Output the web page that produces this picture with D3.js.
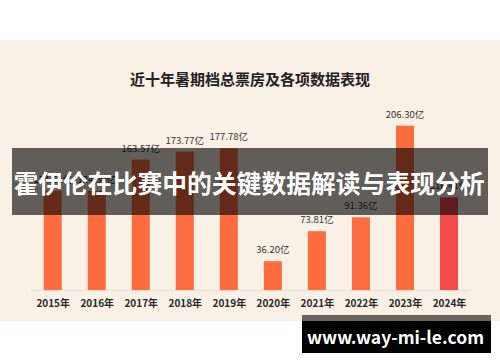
<!DOCTYPE html>
<html>
<head>
<meta charset="utf-8">
<script src="https://cdn.jsdelivr.net/npm/d3@7"></script>
<style>
  body{margin:0;background:#fff;}
  svg{display:block;}
  text{font-family:"Noto Sans CJK SC","Noto Sans",sans-serif;}
</style>
</head>
<body>
<div id="chart"></div>
<script>
// 数据
var years=["2015年","2016年","2017年","2018年","2019年","2020年","2021年","2022年","2023年","2024年"];
var boxOffice=[124.62,124.30,163.57,173.77,177.78,36.20,73.81,91.36,206.30,116.41];
var valueLabels=["124.62亿","124.30亿","163.57亿","173.77亿","177.78亿","36.20亿","73.81亿","91.36亿","206.30亿","116.41亿"];
var title="近十年暑期档总票房及各项数据表现";
var bannerText="霍伊伦在比赛中的关键数据解读与表现分析";
var siteText="www.way-mi-le.com";

var width=500,height=362;
var svg=d3.select("#chart").append("svg")
  .attr("width",width)
  .attr("height",height);

// 背景
svg.append("rect").attr("x",0).attr("y",0).attr("width",width).attr("height",height).attr("fill","#fff");
svg.append("rect").attr("x",0).attr("y",40).attr("width",width).attr("height",281).attr("fill","#f9f0e6");

svg.append("text")
  .attr("x",250).attr("y",85)
  .attr("text-anchor","middle")
  .attr("font-size",15).attr("font-weight","bold")
  .attr("fill","#222")
  .text(title);

var x=d3.scalePoint().domain(years).range([52.7,449]);
var y=d3.scaleLinear().domain([0,250]).range([290,290-250*0.7965]);
var barW=18;

// 基线
svg.append("line")
  .attr("x1",31).attr("x2",470)
  .attr("y1",y(0)+0.5).attr("y2",y(0)+0.5)
  .attr("stroke","#ece2d6").attr("stroke-width",1.5);

svg.append("g").selectAll("rect").data(boxOffice).enter().append("rect")
  .attr("x",function(d,i){return x(years[i])-barW/2;})
  .attr("y",function(d){return y(d);})
  .attr("width",barW)
  .attr("height",function(d){return y(0)-y(d);})
  .attr("fill",function(d,i){return i==years.length-1?"#f24b4b":"#ff6c40";});

svg.append("g").selectAll("text").data(boxOffice).enter().append("text")
  .attr("x",function(d,i){return x(years[i]);})
  .attr("y",function(d){return y(d)-8;})
  .attr("text-anchor","middle")
  .attr("font-size",9.5)
  .attr("fill","#333")
  .text(function(d,i){return valueLabels[i];});

var xAxis=svg.append("g")
  .attr("transform","translate(0,"+y(0)+")")
  .call(d3.axisBottom(x).tickSize(0).tickPadding(10));
xAxis.select(".domain").remove();
xAxis.selectAll("text")
  .attr("font-size",10).attr("font-weight","bold")
  .attr("fill","#2a2a2a")
  .style("font-family","'Noto Sans CJK SC','Noto Sans',sans-serif");

// 横幅
svg.append("rect").attr("x",12).attr("y",148).attr("width",476).attr("height",67)
  .attr("fill","#000").attr("opacity",0.61);
svg.append("text")
  .attr("x",249).attr("y",192.5)
  .attr("text-anchor","middle")
  .attr("font-size",24.8).attr("font-weight","bold")
  .attr("fill","#fff")
  .text(bannerText);

// 网址
svg.append("rect").attr("x",302).attr("y",315).attr("width",189).attr("height",6).attr("fill","#6b655e");
svg.append("rect").attr("x",302).attr("y",321).attr("width",189).attr("height",32).attr("fill","#000");
svg.append("text")
  .attr("x",395.5).attr("y",343.5)
  .attr("text-anchor","middle")
  .attr("font-size",17.5).attr("font-weight","bold")
  .attr("fill","#fff")
  .text(siteText);
</script>
</body>
</html>
